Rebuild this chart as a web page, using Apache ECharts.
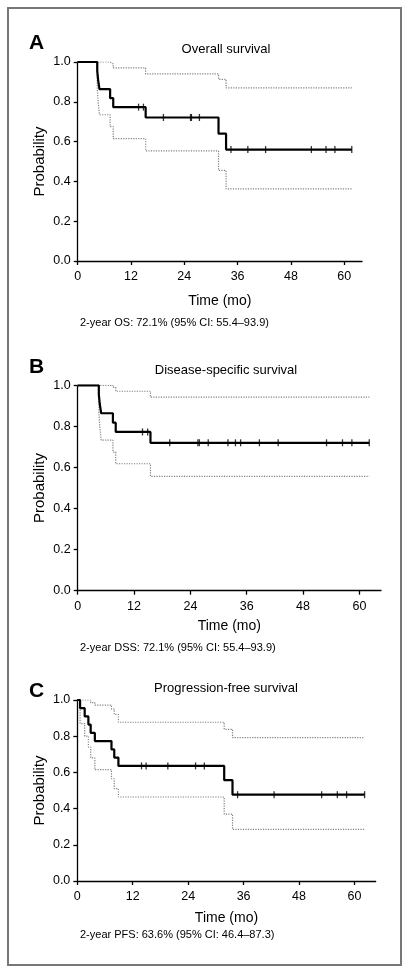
<!DOCTYPE html>
<html>
<head>
<meta charset="utf-8">
<script src="https://cdn.jsdelivr.net/npm/echarts@6/dist/echarts.min.js"></script>
<style>
html,body{margin:0;padding:0;background:#fff;}
#chart{width:411px;height:975px;}
</style>
</head>
<body>
<div id="chart"></div>
<script>
// ---------- Data ----------
var xTickValues = [0, 12, 24, 36, 48, 60];
var yTickValues = [0, 0.2, 0.4, 0.6, 0.8, 1.0];

// Panel A: Overall survival
var osTime  = [0, 4.4, 4.6, 4.9, 7.3, 8.0, 15.3, 31.7, 33.4, 61.7];
var osSurv  = [1, 0.955, 0.909, 0.864, 0.818, 0.773, 0.721, 0.64, 0.56, 0.56];
var osUpper = [1, 1, 1, 1, 0.99, 0.97, 0.94, 0.913, 0.87, 0.87];
var osLower = [1, 0.87, 0.80, 0.735, 0.675, 0.615, 0.553, 0.455, 0.362, 0.362];
var osCensor = [13.7, 14.8, 19.3, 25.4, 25.6, 27.4, 34.5, 38.3, 42.3, 52.6, 55.9, 57.9, 61.7];

// Panel B: Disease-specific survival
var dssTime  = [0, 4.5, 4.7, 5.0, 7.5, 8.1, 15.5, 62.1];
var dssSurv  = [1, 0.955, 0.909, 0.864, 0.818, 0.773, 0.72, 0.72];
var dssUpper = [1, 1, 1, 1, 0.99, 0.971, 0.942, 0.942];
var dssLower = [1, 0.87, 0.80, 0.733, 0.675, 0.618, 0.557, 0.557];
var dssCensor = [13.8, 14.9, 19.6, 25.6, 25.9, 27.8, 32.0, 33.6, 34.7, 38.7, 42.7, 53.0, 56.4, 58.4, 62.1];

// Panel C: Progression-free survival
var pfsTime  = [0, 0.6, 1.6, 2.4, 2.9, 3.8, 7.4, 8.0, 8.9, 31.8, 33.6, 62.2];
var pfsSurv  = [1, 0.955, 0.909, 0.864, 0.818, 0.773, 0.727, 0.682, 0.636, 0.557, 0.477, 0.477];
var pfsUpper = [1, 1, 1, 1, 0.985, 0.972, 0.95, 0.92, 0.877, 0.838, 0.792, 0.792];
var pfsLower = [1, 0.87, 0.80, 0.74, 0.68, 0.615, 0.565, 0.51, 0.464, 0.37, 0.285, 0.285];
var pfsCensor = [13.9, 14.9, 19.6, 25.6, 27.5, 34.7, 42.6, 52.9, 56.3, 58.3, 62.2];

var panelLetters = ['A', 'B', 'C'];
var panelTitles = ['Overall survival', 'Disease-specific survival', 'Progression-free survival'];
var panelNotes = ['2-year OS: 72.1% (95% CI: 55.4\u201393.9)',
                  '2-year DSS: 72.1% (95% CI: 55.4\u201393.9)',
                  '2-year PFS: 63.6% (95% CI: 46.4\u201387.3)'];
var xAxisTitle = 'Time (mo)';
var yAxisTitle = 'Probability';

// ---------- Build ----------
var FONT = '"Liberation Sans", Arial, Helvetica, sans-serif';
function pairs(t, v) { return t.map(function (x, i) { return [x, v[i]]; }); }
function survAt(t, v, x) { var s = v[0]; for (var i = 0; i < t.length; i++) { if (t[i] <= x) s = v[i]; } return s; }

var panels = [
  {time: osTime, surv: osSurv, up: osUpper, lo: osLower, cens: osCensor,
   grid: {left: 77.7, top: 62, width: 284.3, height: 199}, xMax: 64, xGap: 33,
   letterY: 44, titleY: 49, noteY: 323},
  {time: dssTime, surv: dssSurv, up: dssUpper, lo: dssLower, cens: dssCensor,
   grid: {left: 77.7, top: 385.3, width: 303.3, height: 205.4}, xMax: 64.6, xGap: 28,
   letterY: 368, titleY: 370, noteY: 648},
  {time: pfsTime, surv: pfsSurv, up: pfsUpper, lo: pfsLower, cens: pfsCensor,
   grid: {left: 77.3, top: 700, width: 298.4, height: 181}, xMax: 64.6, xGap: 30,
   letterY: 692, titleY: 688, noteY: 935}
];

var grids = [], xAxes = [], yAxes = [], series = [], graphics = [];
var axisLine = {show: true, lineStyle: {color: '#000', width: 1.3}};
var axisTick = {show: true, inside: false, length: 4, lineStyle: {color: '#000', width: 1.3}};

panels.forEach(function (p, i) {
  grids.push(p.grid);
  xAxes.push({
    type: 'value', gridIndex: i, min: 0, max: p.xMax, interval: 12,
    axisLine: axisLine,
    axisTick: Object.assign({}, axisTick, {customValues: xTickValues}),
    axisLabel: {customValues: xTickValues, margin: 9, color: '#000', fontSize: 12.5, fontFamily: FONT},
    splitLine: {show: false},
    name: xAxisTitle, nameLocation: 'middle', nameGap: p.xGap, nameMoveOverlap: false,
    nameTextStyle: {color: '#000', fontSize: 14, fontFamily: FONT}
  });
  yAxes.push({
    type: 'value', gridIndex: i, min: 0, max: 1, interval: 0.2,
    axisLine: axisLine,
    axisTick: axisTick,
    axisLabel: {margin: 7, color: '#000', fontSize: 12.5, fontFamily: FONT,
                formatter: function (v) { return v.toFixed(1); }},
    splitLine: {show: false},
    name: yAxisTitle, nameLocation: 'middle', nameRotate: 90, nameGap: 30, nameMoveOverlap: false,
    nameTextStyle: {color: '#000', fontSize: 15, fontFamily: FONT}
  });
  var ciStyle = {color: '#808080', width: 1.2, type: [1.2, 1.3]};
  series.push({type: 'line', xAxisIndex: i, yAxisIndex: i, step: 'end', symbol: 'none',
               data: pairs(p.time, p.up), lineStyle: ciStyle, z: 1, silent: true});
  series.push({type: 'line', xAxisIndex: i, yAxisIndex: i, step: 'end', symbol: 'none',
               data: pairs(p.time, p.lo), lineStyle: ciStyle, z: 1, silent: true});
  series.push({type: 'line', xAxisIndex: i, yAxisIndex: i, step: 'end', symbol: 'none',
               data: pairs(p.time, p.surv), lineStyle: {color: '#000', width: 2.2}, z: 3, silent: true});
  series.push({type: 'scatter', xAxisIndex: i, yAxisIndex: i, symbol: 'rect', symbolSize: [1.3, 7],
               data: p.cens.map(function (c) { return [c, survAt(p.time, p.surv, c)]; }),
               itemStyle: {color: '#000'}, z: 4, silent: true});

  graphics.push({type: 'text', left: 29, top: p.letterY - 11,
                 style: {text: panelLetters[i], fill: '#000', font: 'bold 21px ' + FONT}});
  graphics.push({type: 'text', x: 226, y: p.titleY,
                 style: {text: panelTitles[i], fill: '#000', font: '13px ' + FONT,
                         textAlign: 'center', textVerticalAlign: 'middle'}});
  graphics.push({type: 'text', x: 80, y: p.noteY,
                 style: {text: panelNotes[i], fill: '#000', font: '11px ' + FONT,
                         textAlign: 'left', textVerticalAlign: 'middle'}});
});

graphics.push({type: 'rect', shape: {x: 8, y: 8, width: 393, height: 957},
               style: {fill: 'none', stroke: '#777', lineWidth: 2}, z: 0});

var chart = echarts.init(document.getElementById('chart'), null, {renderer: 'canvas'});
chart.setOption({
  animation: false,
  backgroundColor: '#fff',
  grid: grids,
  xAxis: xAxes,
  yAxis: yAxes,
  series: series,
  graphic: graphics
});
</script>
</body>
</html>
